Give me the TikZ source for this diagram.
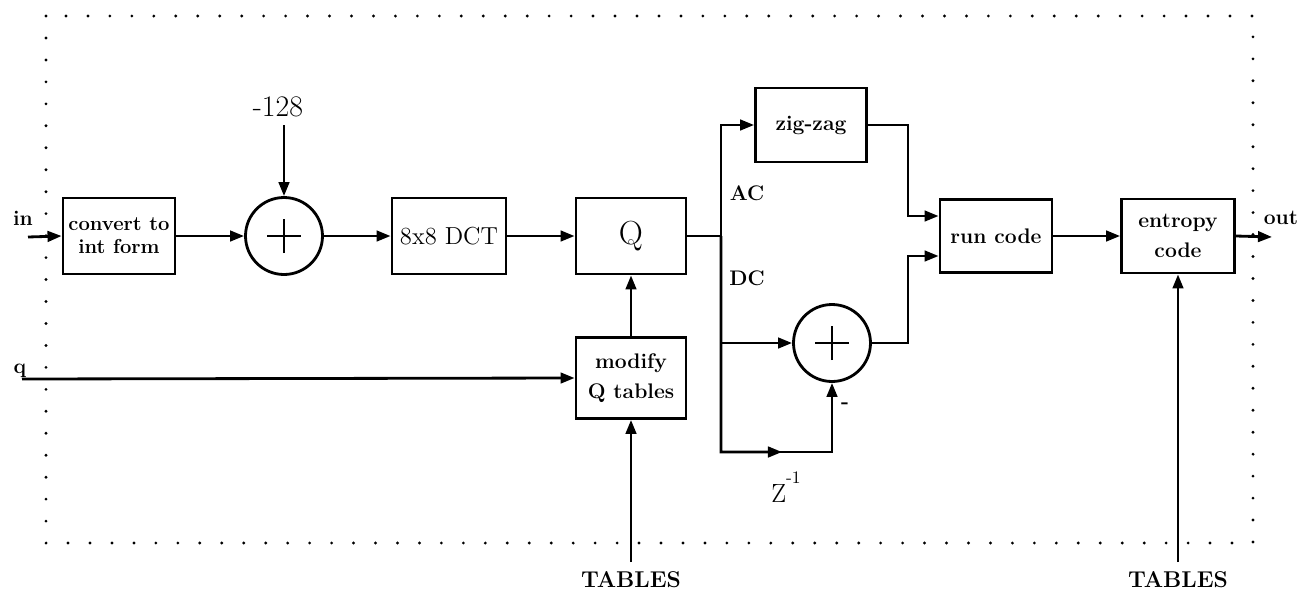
\documentclass[tikz,border=0pt]{standalone}
\usepackage{fontspec}
\usetikzlibrary{arrows.meta, positioning, calc}
\tikzset{
  blk/.style ={rectangle, draw, line width=1.6pt, align=center, inner sep=2pt, font=\bfseries\fontsize{12}{17}\selectfont},
  addr/.style={circle, draw, line width=1.6pt, minimum size=1.54cm, inner sep=0pt,
    path picture={
      \draw[line width=1.2pt] ($(path picture bounding box.center)+(-0.34cm,0)$) -- ($(path picture bounding box.center)+(0.34cm,0)$);
      \draw[line width=1.2pt] ($(path picture bounding box.center)+(0,-0.34cm)$) -- ($(path picture bounding box.center)+(0,0.34cm)$);}},
  fl/.style  ={-{Triangle[length=8pt,width=6pt]}, line width=1.6pt},
  ln/.style  ={line width=1.6pt},
  lbl/.style ={font=\bfseries\fontsize{12}{14}\selectfont, inner sep=1pt},
  brd/.style ={line width=1.8pt, line cap=round, dash pattern=on 0pt off 12.5pt},
}
\begin{document}
\begin{tikzpicture}[x=0.02cm, y=-0.02cm]
  \useasboundingbox (0,0) rectangle (1303,599);
  % dotted frame
  \draw[brd] (46,16) rectangle (1253,543);

  % blocks
  \node[blk, minimum width=2.24cm, minimum height=1.52cm, font=\bfseries\fontsize{11.5}{13}\selectfont] (conv) at (119,236) {convert to\\int form};
  \node[addr] (add1) at (284,236) {};
  \node[blk, minimum width=2.28cm, minimum height=1.52cm, font=\fontsize{14}{16}\selectfont] (dct) at (449,236) {8x8 DCT};
  \node[blk, minimum width=2.2cm, minimum height=1.52cm, font=\fontsize{19}{21}\selectfont] (qnt) at (631,236) {Q};
  \node[blk, minimum width=2.22cm, minimum height=1.48cm] (zz) at (811,125) {zig-zag};
  \node[blk, minimum width=2.24cm, minimum height=1.46cm] (run) at (996,236) {run code};
  \node[blk, minimum width=2.26cm, minimum height=1.48cm] (ent) at (1178,236) {entropy\\code};
  \node[addr] (add2) at (832,343) {};
  \node[blk, minimum width=2.2cm, minimum height=1.62cm] (mod) at (631,378) {modify\\Q tables};

  % labels
  \node[lbl] (lin) at (23,218) {in};
  \node[lbl] (lout) at (1281,218) {out};
  \node[lbl] (lq) at (20,371) {q};
  \node[font=\fontsize{17}{19}\selectfont] (lm128) at (278,107) {-128};
  \node[lbl] (lac) at (747,193) {AC};
  \node[lbl] (ldc) at (747,278) {DC};
  \node[font=\fontsize{15}{17}\selectfont] (lz) at (786,487) {Z\raisebox{11pt}{\fontsize{10}{10}\selectfont -1}};
  \node[lbl] (lneg) at (845,406) {-};
  \node[lbl, font=\bfseries\fontsize{13}{15}\selectfont] (tb1) at (631,580) {TABLES};
  \node[lbl, font=\bfseries\fontsize{13}{15}\selectfont] (tb2) at (1178,580) {TABLES};

  % free ends and bends
  \coordinate (inS) at (28,237);
  \coordinate (outE) at (1272,237);
  \coordinate (qS) at (22,379);
  \coordinate (mtop) at (284,125);
  \coordinate (sp) at (721,236);
  \coordinate (zb) at (721,452);
  \coordinate (zc) at (add2.south |- zb);
  \coordinate (jr) at (908,0);
  \coordinate (ru) at ([yshift=0.4cm]run.west);
  \coordinate (rd) at ([yshift=-0.4cm]run.west);
  \coordinate (t1) at (631,562);
  \coordinate (t2) at (1178,562);

  % main path
  \draw[fl] (inS) -- (conv.west);
  \draw[fl] (conv.east) -- (add1.west);
  \draw[fl] (mtop) -- (add1.north);
  \draw[fl] (add1.east) -- (dct.west);
  \draw[fl] (dct.east) -- (qnt.west);
  \draw[ln] (qnt.east) -- (sp);
  \draw[fl] (sp) |- (zz.west);
  \draw[fl] (sp) |- (add2.west);
  \draw[fl] (sp) -- (zb) -- ($(zb)!0.55!(zc)$);
  \draw[fl] ($(zb)!0.5!(zc)$) -- (zc) -- (add2.south);
  \draw[fl] (zz.east) -- (zz.east -| jr) |- (ru);
  \draw[fl] (add2.east) -- (add2.east -| jr) |- (rd);
  \draw[fl] (run.east) -- (ent.west);
  \draw[fl] (ent.east) -- (outE);

  % tables
  \draw[fl] (qS) -- (mod.west);
  \draw[fl] (mod.north) -- (qnt.south);
  \draw[fl] (t1) -- (mod.south);
  \draw[fl] (t2) -- (ent.south);
\end{tikzpicture}
\end{document}
